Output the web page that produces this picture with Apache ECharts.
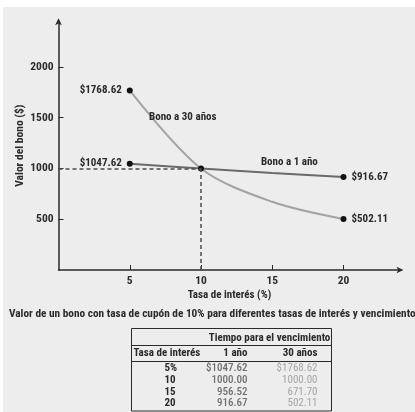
<!DOCTYPE html>
<html>
<head>
<meta charset="utf-8">
<script src="https://cdn.jsdelivr.net/npm/echarts@6/dist/echarts.min.js"></script>
<style>
html,body{margin:0;padding:0;background:#fff;}
#c{width:415px;height:412px;}
</style>
</head>
<body>
<div id="c"></div>
<script>
// ---- data ----
const rates = [5, 10, 15, 20];
const oneYear = [1047.62, 1000.00, 956.52, 916.67];
const thirtyYear = [1768.62, 1000.00, 671.70, 502.11];
const xTicks = [5, 10, 15, 20];
const yTicks = [500, 1000, 1500, 2000];
const seriesNames = ['Bono a 30 años', 'Bono a 1 año'];
const xAxisName = 'Tasa de interés (%)';
const yAxisName = 'Valor del bono ($)';
const captionText = 'Valor de un bono con tasa de cupón de 10% para diferentes tasas de interés y vencimientos';
const tableHeaderTop = 'Tiempo para el vencimiento';
const tableHeaders = ['Tasa de interés', '1 año', '30 años'];

const FONT = "'Roboto Condensed','Open Sans Condensed','DejaVu Sans Condensed',sans-serif";
const FS = 11;
const DARK = '#2a2a2a';

function pointData(vals, showMid) {
  return rates.map((r, i) => {
    const isEnd = i === 0 || i === rates.length - 1;
    return {
      value: [r, vals[i]],
      symbol: (isEnd || (showMid && r === 10)) ? 'circle' : 'none',
      label: {
        show: isEnd,
        position: i === 0 ? 'left' : 'right',
        distance: 5,
        formatter: '$' + vals[i].toFixed(2)
      }
    };
  });
}

const labelStyle = {fontFamily: FONT, fontWeight: 'bold', fontSize: FS, color: DARK};
const f = (w) => (w ? 'bold ' : '') + FS + 'px ' + FONT;

// ---- table graphic ----
const tX = 131.5, tW = 200, tY = 328.5, tH = 82.5;
const col1R = 247.5, col2R = 317.5, rateL = 164.5;
const rowY = [368.5, 380.2, 391.9, 403.6];
const tableEls = [
  {type: 'rect', shape: {x: tX, y: tY, width: tW, height: tH}, style: {fill: 'none', stroke: DARK, lineWidth: 1}},
  {type: 'line', shape: {x1: tX, y1: 345.5, x2: tX + tW, y2: 345.5}, style: {stroke: DARK, lineWidth: 1}},
  {type: 'line', shape: {x1: tX, y1: 361.5, x2: tX + tW, y2: 361.5}, style: {stroke: DARK, lineWidth: 1}},
  {type: 'text', x: 269.5, y: 338, style: {text: tableHeaderTop, font: f(true), fill: DARK, align: 'center', verticalAlign: 'middle'}},
  {type: 'text', x: 133.5, y: 353.5, style: {text: tableHeaders[0], font: f(true), fill: DARK, align: 'left', verticalAlign: 'middle'}},
  {type: 'text', x: col1R, y: 353.5, style: {text: tableHeaders[1], font: f(true), fill: DARK, align: 'right', verticalAlign: 'middle'}},
  {type: 'text', x: col2R, y: 353.5, style: {text: tableHeaders[2], font: f(true), fill: DARK, align: 'right', verticalAlign: 'middle'}}
];
rates.forEach((r, i) => {
  const pre = i === 0 ? '$' : '';
  tableEls.push({type: 'text', x: rateL, y: rowY[i], style: {text: i === 0 ? r + '%' : String(r), font: f(true), fill: DARK, align: 'left', verticalAlign: 'middle'}});
  tableEls.push({type: 'text', x: col1R, y: rowY[i], style: {text: pre + oneYear[i].toFixed(2), font: '500 ' + FS + 'px ' + FONT, fill: '#707070', align: 'right', verticalAlign: 'middle'}});
  tableEls.push({type: 'text', x: col2R, y: rowY[i], style: {text: pre + thirtyYear[i].toFixed(2), font: FS + 'px ' + FONT, fill: '#a5a5a5', align: 'right', verticalAlign: 'middle'}});
});

const chart = echarts.init(document.getElementById('c'), null, {renderer: 'canvas'});
chart.setOption({
  backgroundColor: '#ededed',
  animation: false,
  grid: {left: 58.5, right: 14.5, top: 21.3, bottom: 142},
  xAxis: {
    type: 'value', min: 0, max: 24,
    name: xAxisName, nameLocation: 'middle', nameGap: 20, nameMoveOverlap: false,
    nameTextStyle: {fontFamily: FONT, fontWeight: 'bold', fontSize: FS, color: DARK},
    axisLine: {lineStyle: {color: DARK, width: 1.5}, symbol: ['none', 'arrow'], symbolSize: [5, 7], symbolOffset: [0, 3]},
    axisTick: {inside: true, length: 5, customValues: xTicks, lineStyle: {color: DARK}},
    axisLabel: {customValues: xTicks, margin: 5, formatter: (v) => String(v), fontFamily: FONT, fontWeight: 'bold', fontSize: 11.5, color: DARK},
    splitLine: {show: false}
  },
  yAxis: {
    type: 'value', min: 0, max: 2450,
    name: yAxisName, nameLocation: 'middle', nameGap: 32, nameRotate: 90, nameMoveOverlap: false,
    nameTextStyle: {fontFamily: FONT, fontWeight: 'bold', fontSize: 11.5, color: DARK},
    axisLine: {lineStyle: {color: DARK, width: 1.5}, symbol: ['none', 'arrow'], symbolSize: [5, 7], symbolOffset: [0, 3]},
    axisTick: {inside: true, length: 5, customValues: yTicks, lineStyle: {color: DARK}},
    axisLabel: {customValues: yTicks, margin: 5, formatter: (v) => String(v), fontFamily: FONT, fontWeight: 'bold', fontSize: 11.5, color: DARK},
    splitLine: {show: false}
  },
  title: {
    text: captionText, left: 4, top: 304,
    textStyle: {fontFamily: FONT, fontWeight: 'bold', fontSize: 11.3, color: DARK}
  },
  series: [
    {
      name: seriesNames[0], type: 'line', smooth: 0.32,
      data: pointData(thirtyYear, false),
      symbolSize: 6,
      lineStyle: {color: '#a3a3a3', width: 2},
      itemStyle: {color: '#111'},
      label: labelStyle,
      z: 3,
      markPoint: {
        symbol: 'circle', symbolSize: 0,
        data: [{coord: [8.72, 1506], value: seriesNames[0]}],
        label: Object.assign({show: true, position: 'inside', formatter: seriesNames[0]}, labelStyle)
      },
      markLine: {
        silent: true, symbol: 'none',
        lineStyle: {color: '#4a4a4a', type: [4, 3], width: 1.5},
        label: {show: false},
        data: [
          [{coord: [0, oneYear[1]]}, {coord: [rates[1], oneYear[1]]}],
          [{coord: [rates[1], 0]}, {coord: [rates[1], oneYear[1]]}]
        ]
      }
    },
    {
      name: seriesNames[1], type: 'line', smooth: 0.3,
      data: pointData(oneYear, true),
      symbolSize: 6,
      lineStyle: {color: '#6a6a6a', width: 2},
      itemStyle: {color: '#111'},
      label: labelStyle,
      z: 4,
      markPoint: {
        symbol: 'circle', symbolSize: 0,
        data: [{coord: [16.2, 1060], value: seriesNames[1]}],
        label: Object.assign({show: true, position: 'inside', formatter: seriesNames[1]}, labelStyle)
      }
    }
  ],
  graphic: [
    {type: 'rect', shape: {x: 0, y: 0, width: 415, height: 7}, style: {fill: '#fff'}, z: 100},
    {type: 'rect', shape: {x: 0, y: 0, width: 3, height: 412}, style: {fill: '#fff'}, z: 100},
    {type: 'group', children: tableEls}
  ]
});
</script>
</body>
</html>
